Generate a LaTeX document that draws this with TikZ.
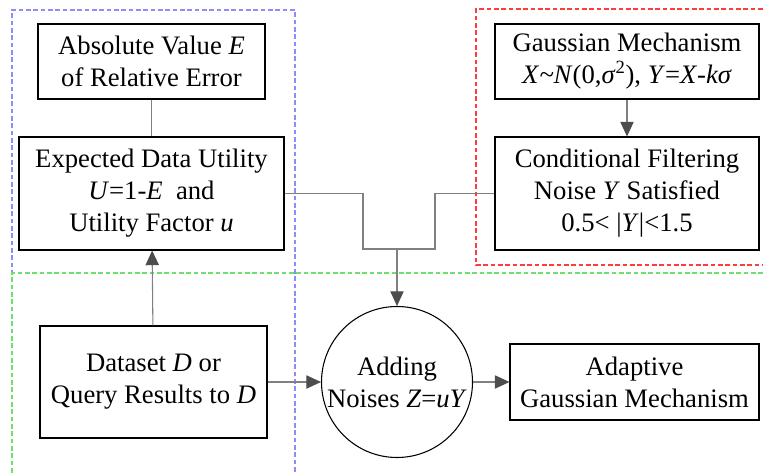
\documentclass[tikz,border=0pt]{standalone}
\usepackage{fontspec}
\setmainfont{Liberation Serif}
\usepackage{tikz}
\usetikzlibrary{shapes,arrows.meta}
\usepackage{xcolor}
\definecolor{linegray}{HTML}{808080}
\definecolor{tipgray}{HTML}{4D4D4D}
\definecolor{dashblue}{HTML}{8C8CFF}
\definecolor{dashred}{HTML}{FF3B3B}
\definecolor{dashgreen}{HTML}{6CE06C}

\begin{document}
\begin{tikzpicture}[x=0.75pt, y=-0.75pt,
  box/.style={draw=black, line width=0.8pt, align=center, inner sep=0pt,
    font=\fontsize{20}{24}\selectfont},
  link/.style={draw=linegray, line width=0.8pt},
  arr/.style={link, -{Triangle[length=11pt,width=10pt,color=tipgray,fill=tipgray]}},
  frame/.style={line width=0.9pt, dash pattern=on 3.5pt off 2pt}]
\useasboundingbox (0,0) rectangle (763,473);
% dashed groups
\draw[frame, dashblue] (12,480) -- (12,10) -- (295,10) -- (295,480);
\draw[frame, dashred] (770,9) -- (476,9) -- (476,265) -- (770,265);
\draw[frame, dashgreen] (12,480) -- (12,273) -- (770,273);
% boxes
\node[box, minimum width=170.25pt, minimum height=56.25pt] (absval) at (151.5,61.5)
  {Absolute Value \textit{E}\\of Relative Error};
\node[box, minimum width=198.75pt, minimum height=84.75pt] (utility) at (151.5,193.5)
  {Expected Data Utility\\\textit{U}=1-\textit{E}\ \ and\\Utility Factor \textit{u}};
\node[box, minimum width=170.25pt, minimum height=84pt] (dataset) at (153.5,382)
  {Dataset \textit{D} or\\Query Results to \textit{D}};
\node[box, minimum width=198pt, minimum height=56.25pt] (gauss) at (627,61.5)
  {Gaussian Mechanism\\\textit{X}\textit{\textasciitilde}\textit{N}(0,\textit{σ}\textsuperscript{2}), \textit{Y}=\textit{X}-\textit{kσ}};
\node[box, minimum width=198pt, minimum height=84.75pt] (filter) at (627,193.5)
  {Conditional Filtering\\Noise \textit{Y} Satisfied\\0.5< |\textit{Y}|<1.5};
\node[box, circle, minimum size=113.25pt] (adding) at (397,382)
  {Adding\\Noises \textit{Z}=\textit{uY}};
\node[box, minimum width=186.75pt, minimum height=57pt] (adaptive) at (634.5,382)
  {Adaptive\\Gaussian Mechanism};
% connectors
\coordinate (lbend) at (363,249);
\coordinate (rbend) at (435,249);
\coordinate (join) at (adding.north |- lbend);
\draw[link] (absval) -- (utility);
\draw[arr] (dataset) -- (utility);
\draw[arr] (gauss) -- (filter);
\draw[link] (utility.east) -| (lbend) -- (rbend) |- (filter.west);
\draw[arr] (join) -- (adding.north);
\draw[arr] (dataset) -- (adding);
\draw[arr] (adding) -- (adaptive);
\end{tikzpicture}
\end{document}
